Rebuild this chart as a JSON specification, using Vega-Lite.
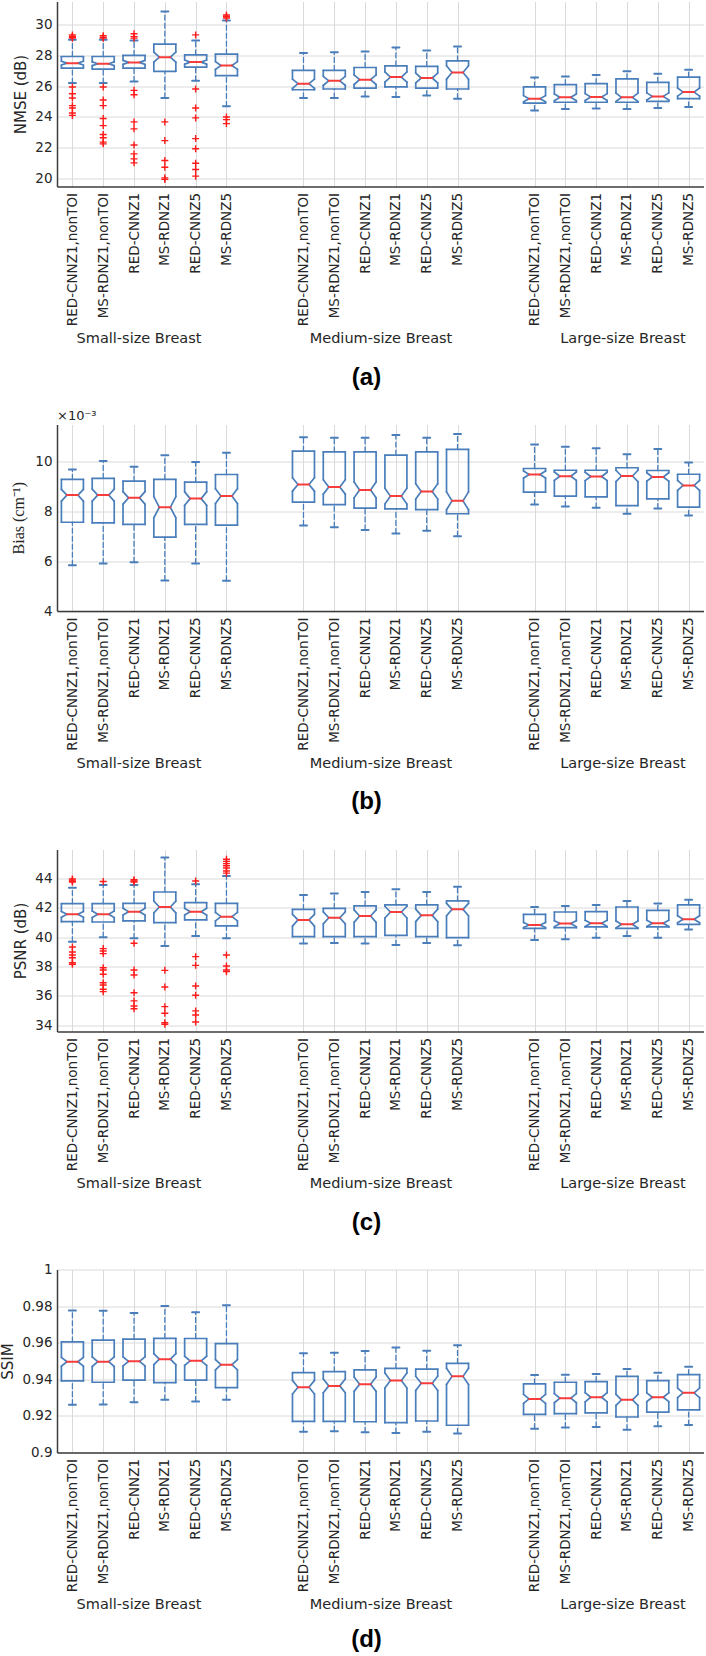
{
"$schema":"https://vega.github.io/schema/vega-lite/v6.json",
"padding":{"top":1.5,"left":0,"right":0,"bottom":0},
"bounds":"flush",
"spacing":238,
"config":{"view":{"stroke":null},"font":"DejaVu Sans",
"axis":{"labelFont":"DejaVu Sans","labelFontSize":13.5,"labelColor":"#262626","titleFont":"DejaVu Sans","titleFontSize":15,"titleFontWeight":"normal","titleColor":"#262626","gridColor":"#dadada","gridWidth":1,"domainColor":"#3c3c3c","domainWidth":1.5},
"rule":{"color":"#4a7ebb","strokeWidth":1.7,"strokeCap":"round"}},
"datasets":{
"groups":[{"g":"Small-size Breast"},{"g":"Medium-size Breast"},{"g":"Large-size Breast"}],
"nmse":[
{"k":"S|RED-CNNZ1,nonTOI","wlo":26.19,"q1":27.16,"nlo":27.36,"med":27.48,"nhi":27.6,"q3":27.91,"whi":28.99},
{"k":"S|MS-RDNZ1,nonTOI","wlo":26.19,"q1":27.1,"nlo":27.32,"med":27.44,"nhi":27.56,"q3":27.91,"whi":28.99},
{"k":"S|RED-CNNZ1","wlo":26.3,"q1":27.16,"nlo":27.4,"med":27.53,"nhi":27.66,"q3":27.98,"whi":28.95},
{"k":"S|MS-RDNZ1","wlo":25.23,"q1":26.95,"nlo":27.55,"med":27.87,"nhi":28.2,"q3":28.71,"whi":30.82},
{"k":"S|RED-CNNZ5","wlo":26.34,"q1":27.23,"nlo":27.42,"med":27.55,"nhi":27.68,"q3":28.02,"whi":28.95},
{"k":"S|MS-RDNZ5","wlo":24.69,"q1":26.67,"nlo":27.08,"med":27.33,"nhi":27.58,"q3":28.06,"whi":30.24},
{"k":"M|RED-CNNZ1,nonTOI","wlo":25.23,"q1":25.76,"nlo":25.85,"med":26.15,"nhi":26.45,"q3":27.01,"whi":28.13},
{"k":"M|MS-RDNZ1,nonTOI","wlo":25.23,"q1":25.81,"nlo":26.05,"med":26.34,"nhi":26.63,"q3":27.01,"whi":28.19},
{"k":"M|RED-CNNZ1","wlo":25.33,"q1":25.87,"nlo":26.1,"med":26.41,"nhi":26.72,"q3":27.2,"whi":28.24},
{"k":"M|MS-RDNZ1","wlo":25.29,"q1":25.94,"nlo":26.25,"med":26.58,"nhi":26.91,"q3":27.31,"whi":28.49},
{"k":"M|RED-CNNZ5","wlo":25.38,"q1":25.87,"nlo":26.2,"med":26.52,"nhi":26.84,"q3":27.27,"whi":28.3},
{"k":"M|MS-RDNZ5","wlo":25.18,"q1":25.81,"nlo":26.45,"med":26.88,"nhi":27.31,"q3":27.63,"whi":28.56},
{"k":"L|RED-CNNZ1,nonTOI","wlo":24.41,"q1":24.9,"nlo":24.98,"med":25.18,"nhi":25.38,"q3":25.94,"whi":26.56},
{"k":"L|MS-RDNZ1,nonTOI","wlo":24.52,"q1":24.95,"nlo":25.05,"med":25.27,"nhi":25.49,"q3":26.09,"whi":26.62},
{"k":"L|RED-CNNZ1","wlo":24.54,"q1":24.95,"nlo":25.07,"med":25.29,"nhi":25.51,"q3":26.15,"whi":26.71},
{"k":"L|MS-RDNZ1","wlo":24.52,"q1":24.95,"nlo":25.0,"med":25.27,"nhi":25.54,"q3":26.47,"whi":26.95},
{"k":"L|RED-CNNZ5","wlo":24.58,"q1":25.01,"nlo":25.1,"med":25.33,"nhi":25.56,"q3":26.24,"whi":26.8},
{"k":"L|MS-RDNZ5","wlo":24.65,"q1":25.18,"nlo":25.35,"med":25.61,"nhi":25.87,"q3":26.58,"whi":27.05}],
"nmse_out":[
{"k":"S|RED-CNNZ1,nonTOI","v":29.3},{"k":"S|RED-CNNZ1,nonTOI","v":29.2},{"k":"S|RED-CNNZ1,nonTOI","v":29.15},{"k":"S|RED-CNNZ1,nonTOI","v":29.1},{"k":"S|RED-CNNZ1,nonTOI","v":25.94},{"k":"S|RED-CNNZ1,nonTOI","v":25.5},{"k":"S|RED-CNNZ1,nonTOI","v":25.23},{"k":"S|RED-CNNZ1,nonTOI","v":24.73},{"k":"S|RED-CNNZ1,nonTOI","v":24.58},{"k":"S|RED-CNNZ1,nonTOI","v":24.26},{"k":"S|RED-CNNZ1,nonTOI","v":24.1},
{"k":"S|MS-RDNZ1,nonTOI","v":29.25},{"k":"S|MS-RDNZ1,nonTOI","v":29.15},{"k":"S|MS-RDNZ1,nonTOI","v":29.1},{"k":"S|MS-RDNZ1,nonTOI","v":25.94},{"k":"S|MS-RDNZ1,nonTOI","v":25.1},{"k":"S|MS-RDNZ1,nonTOI","v":24.73},{"k":"S|MS-RDNZ1,nonTOI","v":23.9},{"k":"S|MS-RDNZ1,nonTOI","v":23.44},{"k":"S|MS-RDNZ1,nonTOI","v":22.86},{"k":"S|MS-RDNZ1,nonTOI","v":22.65},{"k":"S|MS-RDNZ1,nonTOI","v":22.37},{"k":"S|MS-RDNZ1,nonTOI","v":22.26},
{"k":"S|RED-CNNZ1","v":29.38},{"k":"S|RED-CNNZ1","v":29.2},{"k":"S|RED-CNNZ1","v":29.1},{"k":"S|RED-CNNZ1","v":25.72},{"k":"S|RED-CNNZ1","v":25.44},{"k":"S|RED-CNNZ1","v":23.68},{"k":"S|RED-CNNZ1","v":23.23},{"k":"S|RED-CNNZ1","v":22.19},{"k":"S|RED-CNNZ1","v":21.61},{"k":"S|RED-CNNZ1","v":21.29},{"k":"S|RED-CNNZ1","v":21.03},
{"k":"S|MS-RDNZ1","v":23.68},{"k":"S|MS-RDNZ1","v":22.47},{"k":"S|MS-RDNZ1","v":21.18},{"k":"S|MS-RDNZ1","v":20.75},{"k":"S|MS-RDNZ1","v":20.06},{"k":"S|MS-RDNZ1","v":19.96},
{"k":"S|RED-CNNZ5","v":29.31},{"k":"S|RED-CNNZ5","v":25.81},{"k":"S|RED-CNNZ5","v":24.58},{"k":"S|RED-CNNZ5","v":23.94},{"k":"S|RED-CNNZ5","v":22.6},{"k":"S|RED-CNNZ5","v":21.94},{"k":"S|RED-CNNZ5","v":21.0},{"k":"S|RED-CNNZ5","v":20.6},{"k":"S|RED-CNNZ5","v":20.17},
{"k":"S|MS-RDNZ5","v":30.6},{"k":"S|MS-RDNZ5","v":30.5},{"k":"S|MS-RDNZ5","v":30.4},{"k":"S|MS-RDNZ5","v":24.0},{"k":"S|MS-RDNZ5","v":23.83},{"k":"S|MS-RDNZ5","v":23.57}],
"bias":[
{"k":"S|RED-CNNZ1,nonTOI","wlo":0.00584,"q1":0.00757,"nlo":0.00842,"med":0.00866,"nhi":0.00889,"q3":0.00929,"whi":0.00969},
{"k":"S|MS-RDNZ1,nonTOI","wlo":0.00591,"q1":0.00754,"nlo":0.00842,"med":0.00866,"nhi":0.0089,"q3":0.00933,"whi":0.01003},
{"k":"S|RED-CNNZ1","wlo":0.00596,"q1":0.00748,"nlo":0.0083,"med":0.00855,"nhi":0.0088,"q3":0.00922,"whi":0.0098},
{"k":"S|MS-RDNZ1","wlo":0.00523,"q1":0.00697,"nlo":0.00775,"med":0.00817,"nhi":0.0086,"q3":0.00929,"whi":0.01026},
{"k":"S|RED-CNNZ5","wlo":0.00591,"q1":0.00748,"nlo":0.00825,"med":0.00852,"nhi":0.00879,"q3":0.00918,"whi":0.00999},
{"k":"S|MS-RDNZ5","wlo":0.00522,"q1":0.00745,"nlo":0.00832,"med":0.00862,"nhi":0.00892,"q3":0.00949,"whi":0.01036},
{"k":"M|RED-CNNZ1,nonTOI","wlo":0.00744,"q1":0.00838,"nlo":0.00882,"med":0.00909,"nhi":0.00936,"q3":0.01043,"whi":0.01099},
{"k":"M|MS-RDNZ1,nonTOI","wlo":0.00737,"q1":0.00828,"nlo":0.0087,"med":0.00899,"nhi":0.00928,"q3":0.0104,"whi":0.01097},
{"k":"M|RED-CNNZ1","wlo":0.00726,"q1":0.00814,"nlo":0.00855,"med":0.00887,"nhi":0.00919,"q3":0.0104,"whi":0.01097},
{"k":"M|MS-RDNZ1","wlo":0.00712,"q1":0.00811,"nlo":0.0083,"med":0.00862,"nhi":0.00894,"q3":0.01027,"whi":0.01108},
{"k":"M|RED-CNNZ5","wlo":0.00723,"q1":0.00808,"nlo":0.0085,"med":0.00881,"nhi":0.00912,"q3":0.0104,"whi":0.01097},
{"k":"M|MS-RDNZ5","wlo":0.00701,"q1":0.00791,"nlo":0.00807,"med":0.00843,"nhi":0.00879,"q3":0.0105,"whi":0.01112},
{"k":"L|RED-CNNZ1,nonTOI","wlo":0.00828,"q1":0.00878,"nlo":0.00935,"med":0.00949,"nhi":0.00963,"q3":0.00973,"whi":0.0107},
{"k":"L|MS-RDNZ1,nonTOI","wlo":0.0082,"q1":0.00862,"nlo":0.00925,"med":0.00942,"nhi":0.00959,"q3":0.00966,"whi":0.01061},
{"k":"L|RED-CNNZ1","wlo":0.00815,"q1":0.00859,"nlo":0.00924,"med":0.00941,"nhi":0.00958,"q3":0.00966,"whi":0.01054},
{"k":"L|MS-RDNZ1","wlo":0.00791,"q1":0.00824,"nlo":0.0092,"med":0.00943,"nhi":0.00966,"q3":0.00976,"whi":0.0103},
{"k":"L|RED-CNNZ5","wlo":0.00812,"q1":0.00851,"nlo":0.00922,"med":0.00939,"nhi":0.00956,"q3":0.00965,"whi":0.01051},
{"k":"L|MS-RDNZ5","wlo":0.00784,"q1":0.00818,"nlo":0.00885,"med":0.00905,"nhi":0.00925,"q3":0.0095,"whi":0.00997}],
"psnr":[
{"k":"S|RED-CNNZ1,nonTOI","wlo":39.69,"q1":41.05,"nlo":41.35,"med":41.55,"nhi":41.75,"q3":42.28,"whi":43.35},
{"k":"S|MS-RDNZ1,nonTOI","wlo":39.99,"q1":41.03,"nlo":41.33,"med":41.55,"nhi":41.77,"q3":42.28,"whi":43.55},
{"k":"S|RED-CNNZ1","wlo":39.92,"q1":41.1,"nlo":41.5,"med":41.73,"nhi":41.96,"q3":42.3,"whi":43.55},
{"k":"S|MS-RDNZ1","wlo":39.4,"q1":40.98,"nlo":41.65,"med":42.05,"nhi":42.45,"q3":43.07,"whi":45.41},
{"k":"S|RED-CNNZ5","wlo":40.08,"q1":41.17,"nlo":41.5,"med":41.73,"nhi":41.96,"q3":42.34,"whi":43.6},
{"k":"S|MS-RDNZ5","wlo":39.92,"q1":40.76,"nlo":41.1,"med":41.39,"nhi":41.68,"q3":42.3,"whi":44.16},
{"k":"M|RED-CNNZ1,nonTOI","wlo":39.56,"q1":40.03,"nlo":40.75,"med":41.17,"nhi":41.55,"q3":41.89,"whi":42.87},
{"k":"M|MS-RDNZ1,nonTOI","wlo":39.6,"q1":40.03,"nlo":40.9,"med":41.32,"nhi":41.72,"q3":41.96,"whi":42.96},
{"k":"M|RED-CNNZ1","wlo":39.56,"q1":40.03,"nlo":41.0,"med":41.44,"nhi":41.85,"q3":42.12,"whi":43.07},
{"k":"M|MS-RDNZ1","wlo":39.46,"q1":40.12,"nlo":41.3,"med":41.71,"nhi":42.1,"q3":42.19,"whi":43.25},
{"k":"M|RED-CNNZ5","wlo":39.6,"q1":40.03,"nlo":41.05,"med":41.48,"nhi":41.9,"q3":42.19,"whi":43.07},
{"k":"M|MS-RDNZ5","wlo":39.44,"q1":39.96,"nlo":41.45,"med":41.89,"nhi":42.3,"q3":42.46,"whi":43.43},
{"k":"L|RED-CNNZ1,nonTOI","wlo":39.8,"q1":40.6,"nlo":40.65,"med":40.83,"nhi":41.0,"q3":41.55,"whi":42.05},
{"k":"L|MS-RDNZ1,nonTOI","wlo":39.85,"q1":40.64,"nlo":40.7,"med":40.92,"nhi":41.12,"q3":41.71,"whi":42.12},
{"k":"L|RED-CNNZ1","wlo":39.96,"q1":40.69,"nlo":40.72,"med":40.94,"nhi":41.14,"q3":41.73,"whi":42.19},
{"k":"L|MS-RDNZ1","wlo":40.08,"q1":40.6,"nlo":40.62,"med":40.87,"nhi":41.1,"q3":42.05,"whi":42.46},
{"k":"L|RED-CNNZ5","wlo":39.96,"q1":40.69,"nlo":40.72,"med":40.94,"nhi":41.15,"q3":41.82,"whi":42.28},
{"k":"L|MS-RDNZ5","wlo":40.51,"q1":40.87,"nlo":40.98,"med":41.21,"nhi":41.45,"q3":42.19,"whi":42.55}],
"psnr_out":[
{"k":"S|RED-CNNZ1,nonTOI","v":43.95},{"k":"S|RED-CNNZ1,nonTOI","v":43.88},{"k":"S|RED-CNNZ1,nonTOI","v":43.8},{"k":"S|RED-CNNZ1,nonTOI","v":43.75},{"k":"S|RED-CNNZ1,nonTOI","v":39.33},{"k":"S|RED-CNNZ1,nonTOI","v":38.99},{"k":"S|RED-CNNZ1,nonTOI","v":38.78},{"k":"S|RED-CNNZ1,nonTOI","v":38.6},{"k":"S|RED-CNNZ1,nonTOI","v":38.26},{"k":"S|RED-CNNZ1,nonTOI","v":38.15},
{"k":"S|MS-RDNZ1,nonTOI","v":43.78},{"k":"S|MS-RDNZ1,nonTOI","v":39.22},{"k":"S|MS-RDNZ1,nonTOI","v":39.06},{"k":"S|MS-RDNZ1,nonTOI","v":38.88},{"k":"S|MS-RDNZ1,nonTOI","v":37.92},{"k":"S|MS-RDNZ1,nonTOI","v":37.76},{"k":"S|MS-RDNZ1,nonTOI","v":37.47},{"k":"S|MS-RDNZ1,nonTOI","v":36.9},{"k":"S|MS-RDNZ1,nonTOI","v":36.74},{"k":"S|MS-RDNZ1,nonTOI","v":36.45},{"k":"S|MS-RDNZ1,nonTOI","v":36.29},
{"k":"S|RED-CNNZ1","v":43.9},{"k":"S|RED-CNNZ1","v":43.82},{"k":"S|RED-CNNZ1","v":43.75},{"k":"S|RED-CNNZ1","v":39.58},{"k":"S|RED-CNNZ1","v":37.76},{"k":"S|RED-CNNZ1","v":37.42},{"k":"S|RED-CNNZ1","v":36.22},{"k":"S|RED-CNNZ1","v":35.66},{"k":"S|RED-CNNZ1","v":35.31},{"k":"S|RED-CNNZ1","v":35.13},
{"k":"S|MS-RDNZ1","v":37.74},{"k":"S|MS-RDNZ1","v":36.61},{"k":"S|MS-RDNZ1","v":35.27},{"k":"S|MS-RDNZ1","v":34.82},{"k":"S|MS-RDNZ1","v":34.18},{"k":"S|MS-RDNZ1","v":34.07},
{"k":"S|RED-CNNZ5","v":43.82},{"k":"S|RED-CNNZ5","v":38.67},{"k":"S|RED-CNNZ5","v":38.08},{"k":"S|RED-CNNZ5","v":36.68},{"k":"S|RED-CNNZ5","v":36.05},{"k":"S|RED-CNNZ5","v":34.98},{"k":"S|RED-CNNZ5","v":34.7},{"k":"S|RED-CNNZ5","v":34.23},
{"k":"S|MS-RDNZ5","v":45.3},{"k":"S|MS-RDNZ5","v":45.15},{"k":"S|MS-RDNZ5","v":45.0},{"k":"S|MS-RDNZ5","v":44.85},{"k":"S|MS-RDNZ5","v":44.7},{"k":"S|MS-RDNZ5","v":44.5},{"k":"S|MS-RDNZ5","v":44.35},{"k":"S|MS-RDNZ5","v":38.78},{"k":"S|MS-RDNZ5","v":38.04},{"k":"S|MS-RDNZ5","v":37.76},{"k":"S|MS-RDNZ5","v":37.65}],
"ssim":[
{"k":"S|RED-CNNZ1,nonTOI","wlo":0.9261,"q1":0.9391,"nlo":0.9472,"med":0.9496,"nhi":0.952,"q3":0.9605,"whi":0.9776},
{"k":"S|MS-RDNZ1,nonTOI","wlo":0.9262,"q1":0.9384,"nlo":0.947,"med":0.9496,"nhi":0.9522,"q3":0.9614,"whi":0.9775},
{"k":"S|RED-CNNZ1","wlo":0.9275,"q1":0.9396,"nlo":0.9473,"med":0.9498,"nhi":0.9523,"q3":0.9619,"whi":0.9762},
{"k":"S|MS-RDNZ1","wlo":0.9288,"q1":0.9382,"nlo":0.948,"med":0.951,"nhi":0.954,"q3":0.9624,"whi":0.98},
{"k":"S|RED-CNNZ5","wlo":0.9279,"q1":0.9396,"nlo":0.9476,"med":0.9501,"nhi":0.9526,"q3":0.9623,"whi":0.9767},
{"k":"S|MS-RDNZ5","wlo":0.9288,"q1":0.9355,"nlo":0.9452,"med":0.948,"nhi":0.9508,"q3":0.9595,"whi":0.9805},
{"k":"M|RED-CNNZ1,nonTOI","wlo":0.9113,"q1":0.917,"nlo":0.932,"med":0.9357,"nhi":0.9394,"q3":0.9436,"whi":0.9543},
{"k":"M|MS-RDNZ1,nonTOI","wlo":0.9116,"q1":0.917,"nlo":0.9326,"med":0.9364,"nhi":0.9402,"q3":0.9442,"whi":0.9545},
{"k":"M|RED-CNNZ1","wlo":0.911,"q1":0.9168,"nlo":0.9334,"med":0.9373,"nhi":0.9412,"q3":0.9451,"whi":0.9554},
{"k":"M|MS-RDNZ1","wlo":0.9107,"q1":0.9163,"nlo":0.9352,"med":0.9393,"nhi":0.9434,"q3":0.946,"whi":0.9574},
{"k":"M|RED-CNNZ5","wlo":0.9113,"q1":0.9172,"nlo":0.9339,"med":0.9378,"nhi":0.9417,"q3":0.9456,"whi":0.9556},
{"k":"M|MS-RDNZ5","wlo":0.9104,"q1":0.9149,"nlo":0.9372,"med":0.9416,"nhi":0.946,"q3":0.9487,"whi":0.9586},
{"k":"L|RED-CNNZ1,nonTOI","wlo":0.913,"q1":0.9208,"nlo":0.9268,"med":0.9293,"nhi":0.9318,"q3":0.9375,"whi":0.9424},
{"k":"L|MS-RDNZ1,nonTOI","wlo":0.9136,"q1":0.9212,"nlo":0.9272,"med":0.9297,"nhi":0.9322,"q3":0.9384,"whi":0.9425},
{"k":"L|RED-CNNZ1","wlo":0.914,"q1":0.9217,"nlo":0.9277,"med":0.9302,"nhi":0.9327,"q3":0.9387,"whi":0.9429},
{"k":"L|MS-RDNZ1","wlo":0.9125,"q1":0.9194,"nlo":0.9258,"med":0.9288,"nhi":0.9318,"q3":0.9416,"whi":0.9456},
{"k":"L|RED-CNNZ5","wlo":0.9143,"q1":0.9221,"nlo":0.9278,"med":0.9302,"nhi":0.9326,"q3":0.9393,"whi":0.9436},
{"k":"L|MS-RDNZ5","wlo":0.915,"q1":0.9233,"nlo":0.93,"med":0.9326,"nhi":0.9352,"q3":0.9425,"whi":0.9468}]
},
"vconcat":[
{"width":647,"height":185,
"layer":[
{"data":{"name":"nmse"},
"encoding":{"x":{"field":"k","type":"nominal","scale":{"type":"point","padding":1,"domain":["S|RED-CNNZ1,nonTOI"," 1","S|MS-RDNZ1,nonTOI"," 2","S|RED-CNNZ1"," 3","S|MS-RDNZ1"," 4","S|RED-CNNZ5"," 5","S|MS-RDNZ5"," 6"," 7"," 8"," 9","M|RED-CNNZ1,nonTOI"," 10","M|MS-RDNZ1,nonTOI"," 11","M|RED-CNNZ1"," 12","M|MS-RDNZ1"," 13","M|RED-CNNZ5"," 14","M|MS-RDNZ5"," 15"," 16"," 17"," 18","L|RED-CNNZ1,nonTOI"," 19","L|MS-RDNZ1,nonTOI"," 20","L|RED-CNNZ1"," 21","L|MS-RDNZ1"," 22","L|RED-CNNZ5"," 23","L|MS-RDNZ5"]},
"axis":{"title":null,"values":["S|RED-CNNZ1,nonTOI","S|MS-RDNZ1,nonTOI","S|RED-CNNZ1","S|MS-RDNZ1","S|RED-CNNZ5","S|MS-RDNZ5","M|RED-CNNZ1,nonTOI","M|MS-RDNZ1,nonTOI","M|RED-CNNZ1","M|MS-RDNZ1","M|RED-CNNZ5","M|MS-RDNZ5","L|RED-CNNZ1,nonTOI","L|MS-RDNZ1,nonTOI","L|RED-CNNZ1","L|MS-RDNZ1","L|RED-CNNZ5","L|MS-RDNZ5"],"labelExpr":"split(datum.value,'|')[1]","labelAngle":-90,"labelPadding":6,"ticks":false,"grid":true,"labelOverlap":false,"labelLimit":0}}},
"layer":[
{"mark":{"type":"rule","strokeDash":[5,3],"strokeWidth":1.3},"encoding":{"y":{"field":"wlo","type":"quantitative","scale":{"domain":[19.5,31.47],"nice":false,"zero":false},"axis":{"title":"NMSE (dB)","values":[20,22,24,26,28,30],"tickCount":20,"labelExpr":"toString(datum.value)","ticks":false,"labelPadding":5,"titlePadding":6,"grid":true,"labelOverlap":false}},"y2":{"field":"q1"}}},
{"mark":{"type":"rule","strokeDash":[5,3],"strokeWidth":1.3},"encoding":{"y":{"field":"q3","type":"quantitative"},"y2":{"field":"whi"}}},
{"mark":{"type":"rule","strokeWidth":2,"xOffset":-3.5,"x2Offset":3.5},"encoding":{"x2":{"field":"k"},"y":{"field":"wlo","type":"quantitative"}}},
{"mark":{"type":"rule","strokeWidth":2,"xOffset":-3.5,"x2Offset":3.5},"encoding":{"x2":{"field":"k"},"y":{"field":"whi","type":"quantitative"}}},
{"mark":{"type":"rule","xOffset":-11,"x2Offset":11},"encoding":{"x2":{"field":"k"},"y":{"field":"q1","type":"quantitative"}}},
{"mark":{"type":"rule","xOffset":-11,"x2Offset":11},"encoding":{"x2":{"field":"k"},"y":{"field":"q3","type":"quantitative"}}},
{"mark":{"type":"rule","xOffset":-11},"encoding":{"y":{"field":"q1","type":"quantitative"},"y2":{"field":"nlo"}}},
{"mark":{"type":"rule","xOffset":-11},"encoding":{"y":{"field":"nhi","type":"quantitative"},"y2":{"field":"q3"}}},
{"mark":{"type":"rule","xOffset":11},"encoding":{"y":{"field":"q1","type":"quantitative"},"y2":{"field":"nlo"}}},
{"mark":{"type":"rule","xOffset":11},"encoding":{"y":{"field":"nhi","type":"quantitative"},"y2":{"field":"q3"}}},
{"mark":{"type":"rule","xOffset":-11,"x2Offset":-5.5},"encoding":{"x2":{"field":"k"},"y":{"field":"nlo","type":"quantitative"},"y2":{"field":"med"}}},
{"mark":{"type":"rule","xOffset":-5.5,"x2Offset":-11},"encoding":{"x2":{"field":"k"},"y":{"field":"med","type":"quantitative"},"y2":{"field":"nhi"}}},
{"mark":{"type":"rule","xOffset":11,"x2Offset":5.5},"encoding":{"x2":{"field":"k"},"y":{"field":"nlo","type":"quantitative"},"y2":{"field":"med"}}},
{"mark":{"type":"rule","xOffset":5.5,"x2Offset":11},"encoding":{"x2":{"field":"k"},"y":{"field":"med","type":"quantitative"},"y2":{"field":"nhi"}}},
{"mark":{"type":"rule","color":"#f83c3c","strokeWidth":2,"xOffset":-5.5,"x2Offset":5.5},"encoding":{"x2":{"field":"k"},"y":{"field":"med","type":"quantitative"}}},
{"data":{"name":"nmse_out"},"mark":{"type":"point","shape":"M-1,0L1,0M0,-1L0,1","filled":false,"color":"#ff1a1a","strokeWidth":1.4,"size":49,"opacity":1},"encoding":{"y":{"field":"v","type":"quantitative"}}}
]},
{"data":{"name":"groups"},"mark":{"type":"point","opacity":0},"encoding":{"x":{"field":"g","type":"nominal","scale":{"type":"point","domain":["Small-size Breast","Medium-size Breast","Large-size Breast"],"padding":0.337},"axis":{"orient":"bottom","offset":145,"title":"(a)","titleFont":"Liberation Sans","titleFontSize":24,"titleFontWeight":"bold","titleColor":"#000000","titlePadding":20,"titleX":309,"labelAngle":0,"labelFontSize":14.5,"labelPadding":0,"ticks":false,"domain":false,"grid":false,"labelOverlap":false,"labelLimit":0}}}}
],
"resolve":{"scale":{"x":"independent"},"axis":{"x":"independent"}}},

{"width":647,"height":186.5,
"title":{"text":"×10⁻³","anchor":"start","frame":"group","fontSize":13,"fontWeight":"normal","color":"#262626","font":"DejaVu Sans","offset":2},
"layer":[
{"data":{"name":"bias"},
"encoding":{"x":{"field":"k","type":"nominal","scale":{"type":"point","padding":1,"domain":["S|RED-CNNZ1,nonTOI"," 1","S|MS-RDNZ1,nonTOI"," 2","S|RED-CNNZ1"," 3","S|MS-RDNZ1"," 4","S|RED-CNNZ5"," 5","S|MS-RDNZ5"," 6"," 7"," 8"," 9","M|RED-CNNZ1,nonTOI"," 10","M|MS-RDNZ1,nonTOI"," 11","M|RED-CNNZ1"," 12","M|MS-RDNZ1"," 13","M|RED-CNNZ5"," 14","M|MS-RDNZ5"," 15"," 16"," 17"," 18","L|RED-CNNZ1,nonTOI"," 19","L|MS-RDNZ1,nonTOI"," 20","L|RED-CNNZ1"," 21","L|MS-RDNZ1"," 22","L|RED-CNNZ5"," 23","L|MS-RDNZ5"]},
"axis":{"title":null,"values":["S|RED-CNNZ1,nonTOI","S|MS-RDNZ1,nonTOI","S|RED-CNNZ1","S|MS-RDNZ1","S|RED-CNNZ5","S|MS-RDNZ5","M|RED-CNNZ1,nonTOI","M|MS-RDNZ1,nonTOI","M|RED-CNNZ1","M|MS-RDNZ1","M|RED-CNNZ5","M|MS-RDNZ5","L|RED-CNNZ1,nonTOI","L|MS-RDNZ1,nonTOI","L|RED-CNNZ1","L|MS-RDNZ1","L|RED-CNNZ5","L|MS-RDNZ5"],"labelExpr":"split(datum.value,'|')[1]","labelAngle":-90,"labelPadding":6,"ticks":false,"grid":true,"labelOverlap":false,"labelLimit":0}}},
"layer":[
{"mark":{"type":"rule","strokeDash":[5,3],"strokeWidth":1.3},"encoding":{"y":{"field":"wlo","type":"quantitative","scale":{"domain":[0.004,0.0115],"nice":false,"zero":false},"axis":{"title":"Bias (cm⁻¹)","titleFont":"Liberation Serif","titleFontSize":16,"values":[0.004,0.006,0.008,0.01],"tickCount":20,"labelExpr":"format(datum.value*1000,'~g')","ticks":false,"labelPadding":5,"titlePadding":8,"grid":true,"labelOverlap":false}},"y2":{"field":"q1"}}},
{"mark":{"type":"rule","strokeDash":[5,3],"strokeWidth":1.3},"encoding":{"y":{"field":"q3","type":"quantitative"},"y2":{"field":"whi"}}},
{"mark":{"type":"rule","strokeWidth":2,"xOffset":-3.5,"x2Offset":3.5},"encoding":{"x2":{"field":"k"},"y":{"field":"wlo","type":"quantitative"}}},
{"mark":{"type":"rule","strokeWidth":2,"xOffset":-3.5,"x2Offset":3.5},"encoding":{"x2":{"field":"k"},"y":{"field":"whi","type":"quantitative"}}},
{"mark":{"type":"rule","xOffset":-11,"x2Offset":11},"encoding":{"x2":{"field":"k"},"y":{"field":"q1","type":"quantitative"}}},
{"mark":{"type":"rule","xOffset":-11,"x2Offset":11},"encoding":{"x2":{"field":"k"},"y":{"field":"q3","type":"quantitative"}}},
{"mark":{"type":"rule","xOffset":-11},"encoding":{"y":{"field":"q1","type":"quantitative"},"y2":{"field":"nlo"}}},
{"mark":{"type":"rule","xOffset":-11},"encoding":{"y":{"field":"nhi","type":"quantitative"},"y2":{"field":"q3"}}},
{"mark":{"type":"rule","xOffset":11},"encoding":{"y":{"field":"q1","type":"quantitative"},"y2":{"field":"nlo"}}},
{"mark":{"type":"rule","xOffset":11},"encoding":{"y":{"field":"nhi","type":"quantitative"},"y2":{"field":"q3"}}},
{"mark":{"type":"rule","xOffset":-11,"x2Offset":-5.5},"encoding":{"x2":{"field":"k"},"y":{"field":"nlo","type":"quantitative"},"y2":{"field":"med"}}},
{"mark":{"type":"rule","xOffset":-5.5,"x2Offset":-11},"encoding":{"x2":{"field":"k"},"y":{"field":"med","type":"quantitative"},"y2":{"field":"nhi"}}},
{"mark":{"type":"rule","xOffset":11,"x2Offset":5.5},"encoding":{"x2":{"field":"k"},"y":{"field":"nlo","type":"quantitative"},"y2":{"field":"med"}}},
{"mark":{"type":"rule","xOffset":5.5,"x2Offset":11},"encoding":{"x2":{"field":"k"},"y":{"field":"med","type":"quantitative"},"y2":{"field":"nhi"}}},
{"mark":{"type":"rule","color":"#f83c3c","strokeWidth":2,"xOffset":-5.5,"x2Offset":5.5},"encoding":{"x2":{"field":"k"},"y":{"field":"med","type":"quantitative"}}}
]},
{"data":{"name":"groups"},"mark":{"type":"point","opacity":0},"encoding":{"x":{"field":"g","type":"nominal","scale":{"type":"point","domain":["Small-size Breast","Medium-size Breast","Large-size Breast"],"padding":0.337},"axis":{"orient":"bottom","offset":145,"title":"(b)","titleFont":"Liberation Sans","titleFontSize":24,"titleFontWeight":"bold","titleColor":"#000000","titlePadding":20,"titleX":309,"labelAngle":0,"labelFontSize":14.5,"labelPadding":0,"ticks":false,"domain":false,"grid":false,"labelOverlap":false,"labelLimit":0}}}}
],
"resolve":{"scale":{"x":"independent"},"axis":{"x":"independent"}}},

{"width":647,"height":182,
"layer":[
{"data":{"name":"psnr"},
"encoding":{"x":{"field":"k","type":"nominal","scale":{"type":"point","padding":1,"domain":["S|RED-CNNZ1,nonTOI"," 1","S|MS-RDNZ1,nonTOI"," 2","S|RED-CNNZ1"," 3","S|MS-RDNZ1"," 4","S|RED-CNNZ5"," 5","S|MS-RDNZ5"," 6"," 7"," 8"," 9","M|RED-CNNZ1,nonTOI"," 10","M|MS-RDNZ1,nonTOI"," 11","M|RED-CNNZ1"," 12","M|MS-RDNZ1"," 13","M|RED-CNNZ5"," 14","M|MS-RDNZ5"," 15"," 16"," 17"," 18","L|RED-CNNZ1,nonTOI"," 19","L|MS-RDNZ1,nonTOI"," 20","L|RED-CNNZ1"," 21","L|MS-RDNZ1"," 22","L|RED-CNNZ5"," 23","L|MS-RDNZ5"]},
"axis":{"title":null,"values":["S|RED-CNNZ1,nonTOI","S|MS-RDNZ1,nonTOI","S|RED-CNNZ1","S|MS-RDNZ1","S|RED-CNNZ5","S|MS-RDNZ5","M|RED-CNNZ1,nonTOI","M|MS-RDNZ1,nonTOI","M|RED-CNNZ1","M|MS-RDNZ1","M|RED-CNNZ5","M|MS-RDNZ5","L|RED-CNNZ1,nonTOI","L|MS-RDNZ1,nonTOI","L|RED-CNNZ1","L|MS-RDNZ1","L|RED-CNNZ5","L|MS-RDNZ5"],"labelExpr":"split(datum.value,'|')[1]","labelAngle":-90,"labelPadding":6,"ticks":false,"grid":true,"labelOverlap":false,"labelLimit":0}}},
"layer":[
{"mark":{"type":"rule","strokeDash":[5,3],"strokeWidth":1.3},"encoding":{"y":{"field":"wlo","type":"quantitative","scale":{"domain":[33.58,45.96],"nice":false,"zero":false},"axis":{"title":"PSNR (dB)","values":[34,36,38,40,42,44],"tickCount":20,"labelExpr":"toString(datum.value)","ticks":false,"labelPadding":5,"titlePadding":6,"grid":true,"labelOverlap":false}},"y2":{"field":"q1"}}},
{"mark":{"type":"rule","strokeDash":[5,3],"strokeWidth":1.3},"encoding":{"y":{"field":"q3","type":"quantitative"},"y2":{"field":"whi"}}},
{"mark":{"type":"rule","strokeWidth":2,"xOffset":-3.5,"x2Offset":3.5},"encoding":{"x2":{"field":"k"},"y":{"field":"wlo","type":"quantitative"}}},
{"mark":{"type":"rule","strokeWidth":2,"xOffset":-3.5,"x2Offset":3.5},"encoding":{"x2":{"field":"k"},"y":{"field":"whi","type":"quantitative"}}},
{"mark":{"type":"rule","xOffset":-11,"x2Offset":11},"encoding":{"x2":{"field":"k"},"y":{"field":"q1","type":"quantitative"}}},
{"mark":{"type":"rule","xOffset":-11,"x2Offset":11},"encoding":{"x2":{"field":"k"},"y":{"field":"q3","type":"quantitative"}}},
{"mark":{"type":"rule","xOffset":-11},"encoding":{"y":{"field":"q1","type":"quantitative"},"y2":{"field":"nlo"}}},
{"mark":{"type":"rule","xOffset":-11},"encoding":{"y":{"field":"nhi","type":"quantitative"},"y2":{"field":"q3"}}},
{"mark":{"type":"rule","xOffset":11},"encoding":{"y":{"field":"q1","type":"quantitative"},"y2":{"field":"nlo"}}},
{"mark":{"type":"rule","xOffset":11},"encoding":{"y":{"field":"nhi","type":"quantitative"},"y2":{"field":"q3"}}},
{"mark":{"type":"rule","xOffset":-11,"x2Offset":-5.5},"encoding":{"x2":{"field":"k"},"y":{"field":"nlo","type":"quantitative"},"y2":{"field":"med"}}},
{"mark":{"type":"rule","xOffset":-5.5,"x2Offset":-11},"encoding":{"x2":{"field":"k"},"y":{"field":"med","type":"quantitative"},"y2":{"field":"nhi"}}},
{"mark":{"type":"rule","xOffset":11,"x2Offset":5.5},"encoding":{"x2":{"field":"k"},"y":{"field":"nlo","type":"quantitative"},"y2":{"field":"med"}}},
{"mark":{"type":"rule","xOffset":5.5,"x2Offset":11},"encoding":{"x2":{"field":"k"},"y":{"field":"med","type":"quantitative"},"y2":{"field":"nhi"}}},
{"mark":{"type":"rule","color":"#f83c3c","strokeWidth":2,"xOffset":-5.5,"x2Offset":5.5},"encoding":{"x2":{"field":"k"},"y":{"field":"med","type":"quantitative"}}},
{"data":{"name":"psnr_out"},"mark":{"type":"point","shape":"M-1,0L1,0M0,-1L0,1","filled":false,"color":"#ff1a1a","strokeWidth":1.4,"size":49,"opacity":1},"encoding":{"y":{"field":"v","type":"quantitative"}}}
]},
{"data":{"name":"groups"},"mark":{"type":"point","opacity":0},"encoding":{"x":{"field":"g","type":"nominal","scale":{"type":"point","domain":["Small-size Breast","Medium-size Breast","Large-size Breast"],"padding":0.337},"axis":{"orient":"bottom","offset":145,"title":"(c)","titleFont":"Liberation Sans","titleFontSize":24,"titleFontWeight":"bold","titleColor":"#000000","titlePadding":20,"titleX":309,"labelAngle":0,"labelFontSize":14.5,"labelPadding":0,"ticks":false,"domain":false,"grid":false,"labelOverlap":false,"labelLimit":0}}}}
],
"resolve":{"scale":{"x":"independent"},"axis":{"x":"independent"}}},

{"width":647,"height":183,
"layer":[
{"data":{"name":"ssim"},
"encoding":{"x":{"field":"k","type":"nominal","scale":{"type":"point","padding":1,"domain":["S|RED-CNNZ1,nonTOI"," 1","S|MS-RDNZ1,nonTOI"," 2","S|RED-CNNZ1"," 3","S|MS-RDNZ1"," 4","S|RED-CNNZ5"," 5","S|MS-RDNZ5"," 6"," 7"," 8"," 9","M|RED-CNNZ1,nonTOI"," 10","M|MS-RDNZ1,nonTOI"," 11","M|RED-CNNZ1"," 12","M|MS-RDNZ1"," 13","M|RED-CNNZ5"," 14","M|MS-RDNZ5"," 15"," 16"," 17"," 18","L|RED-CNNZ1,nonTOI"," 19","L|MS-RDNZ1,nonTOI"," 20","L|RED-CNNZ1"," 21","L|MS-RDNZ1"," 22","L|RED-CNNZ5"," 23","L|MS-RDNZ5"]},
"axis":{"title":null,"values":["S|RED-CNNZ1,nonTOI","S|MS-RDNZ1,nonTOI","S|RED-CNNZ1","S|MS-RDNZ1","S|RED-CNNZ5","S|MS-RDNZ5","M|RED-CNNZ1,nonTOI","M|MS-RDNZ1,nonTOI","M|RED-CNNZ1","M|MS-RDNZ1","M|RED-CNNZ5","M|MS-RDNZ5","L|RED-CNNZ1,nonTOI","L|MS-RDNZ1,nonTOI","L|RED-CNNZ1","L|MS-RDNZ1","L|RED-CNNZ5","L|MS-RDNZ5"],"labelExpr":"split(datum.value,'|')[1]","labelAngle":-90,"labelPadding":6,"ticks":false,"grid":true,"labelOverlap":false,"labelLimit":0}}},
"layer":[
{"mark":{"type":"rule","strokeDash":[5,3],"strokeWidth":1.3},"encoding":{"y":{"field":"wlo","type":"quantitative","scale":{"domain":[0.9,1],"nice":false,"zero":false},"axis":{"title":"SSIM","values":[0.9,0.92,0.94,0.96,0.98,1],"tickCount":20,"labelExpr":"toString(datum.value)","ticks":false,"labelPadding":5,"titlePadding":6,"grid":true,"labelOverlap":false}},"y2":{"field":"q1"}}},
{"mark":{"type":"rule","strokeDash":[5,3],"strokeWidth":1.3},"encoding":{"y":{"field":"q3","type":"quantitative"},"y2":{"field":"whi"}}},
{"mark":{"type":"rule","strokeWidth":2,"xOffset":-3.5,"x2Offset":3.5},"encoding":{"x2":{"field":"k"},"y":{"field":"wlo","type":"quantitative"}}},
{"mark":{"type":"rule","strokeWidth":2,"xOffset":-3.5,"x2Offset":3.5},"encoding":{"x2":{"field":"k"},"y":{"field":"whi","type":"quantitative"}}},
{"mark":{"type":"rule","xOffset":-11,"x2Offset":11},"encoding":{"x2":{"field":"k"},"y":{"field":"q1","type":"quantitative"}}},
{"mark":{"type":"rule","xOffset":-11,"x2Offset":11},"encoding":{"x2":{"field":"k"},"y":{"field":"q3","type":"quantitative"}}},
{"mark":{"type":"rule","xOffset":-11},"encoding":{"y":{"field":"q1","type":"quantitative"},"y2":{"field":"nlo"}}},
{"mark":{"type":"rule","xOffset":-11},"encoding":{"y":{"field":"nhi","type":"quantitative"},"y2":{"field":"q3"}}},
{"mark":{"type":"rule","xOffset":11},"encoding":{"y":{"field":"q1","type":"quantitative"},"y2":{"field":"nlo"}}},
{"mark":{"type":"rule","xOffset":11},"encoding":{"y":{"field":"nhi","type":"quantitative"},"y2":{"field":"q3"}}},
{"mark":{"type":"rule","xOffset":-11,"x2Offset":-5.5},"encoding":{"x2":{"field":"k"},"y":{"field":"nlo","type":"quantitative"},"y2":{"field":"med"}}},
{"mark":{"type":"rule","xOffset":-5.5,"x2Offset":-11},"encoding":{"x2":{"field":"k"},"y":{"field":"med","type":"quantitative"},"y2":{"field":"nhi"}}},
{"mark":{"type":"rule","xOffset":11,"x2Offset":5.5},"encoding":{"x2":{"field":"k"},"y":{"field":"nlo","type":"quantitative"},"y2":{"field":"med"}}},
{"mark":{"type":"rule","xOffset":5.5,"x2Offset":11},"encoding":{"x2":{"field":"k"},"y":{"field":"med","type":"quantitative"},"y2":{"field":"nhi"}}},
{"mark":{"type":"rule","color":"#f83c3c","strokeWidth":2,"xOffset":-5.5,"x2Offset":5.5},"encoding":{"x2":{"field":"k"},"y":{"field":"med","type":"quantitative"}}}
]},
{"data":{"name":"groups"},"mark":{"type":"point","opacity":0},"encoding":{"x":{"field":"g","type":"nominal","scale":{"type":"point","domain":["Small-size Breast","Medium-size Breast","Large-size Breast"],"padding":0.337},"axis":{"orient":"bottom","offset":145,"title":"(d)","titleFont":"Liberation Sans","titleFontSize":24,"titleFontWeight":"bold","titleColor":"#000000","titlePadding":16,"titleX":309,"labelAngle":0,"labelFontSize":14.5,"labelPadding":0,"ticks":false,"domain":false,"grid":false,"labelOverlap":false,"labelLimit":0}}}}
],
"resolve":{"scale":{"x":"independent"},"axis":{"x":"independent"}}}
]
}
